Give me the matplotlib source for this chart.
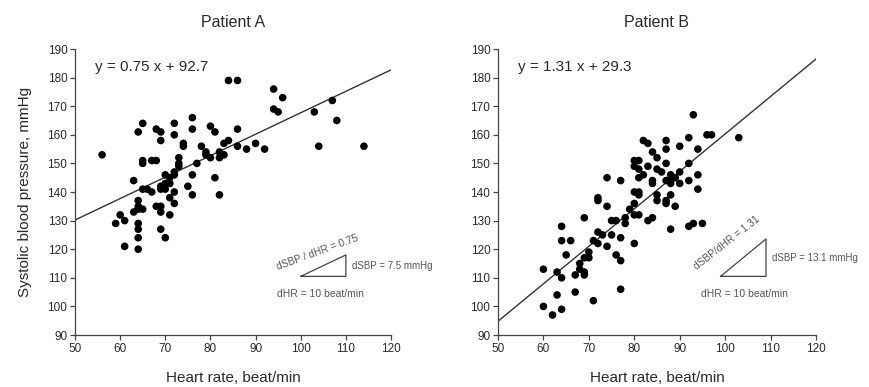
import matplotlib
matplotlib.use("Agg")
import matplotlib.pyplot as plt
import numpy as np

plt.rcParams['font.family'] = ['Liberation Sans', 'DejaVu Sans']

titles = ["Patient A", "Patient B"]

hr_a = [56, 59, 60, 61, 61, 63, 63, 64, 64, 64, 64, 64, 64, 64, 64, 65, 65, 65, 65, 65,
        66, 67, 67, 68, 68, 68, 69, 69, 69, 69, 69, 69, 69, 70, 70, 70, 70, 71, 71, 71,
        71, 72, 72, 72, 72, 72, 72, 73, 73, 73, 74, 74, 75, 76, 76, 76, 76, 77, 78, 79,
        79, 80, 80, 81, 81, 82, 82, 82, 83, 83, 84, 84, 86, 86, 86, 88, 90, 92, 94, 94,
        95, 96, 103, 104, 107, 108, 114]
sbp_a = [153, 129, 132, 130, 121, 144, 133, 161, 137, 135, 134, 129, 127, 124, 120, 164, 151, 150, 141, 134,
         141, 140, 151, 151, 162, 135, 161, 158, 135, 133, 127, 142, 141, 146, 143, 141, 124, 145, 143, 138,
         132, 164, 160, 147, 146, 140, 136, 152, 150, 149, 157, 156, 142, 166, 162, 146, 139, 150, 156, 154,
         153, 163, 152, 161, 145, 154, 152, 139, 157, 153, 179, 158, 179, 162, 156, 155, 157, 155, 176, 169,
         168, 173, 168, 156, 172, 165, 156]

hr_b = [60, 60, 62, 63, 63, 64, 64, 64, 64, 65, 66, 67, 67, 68, 68, 69, 69, 69, 69, 70,
        70, 71, 71, 72, 72, 72, 72, 73, 74, 74, 74, 75, 75, 76, 76, 77, 77, 77, 77, 78,
        78, 79, 80, 80, 80, 80, 80, 80, 81, 81, 81, 81, 81, 81, 82, 82, 83, 83, 83, 84,
        84, 84, 84, 85, 85, 85, 85, 86, 87, 87, 87, 87, 87, 87, 88, 88, 88, 88, 88, 89,
        89, 90, 90, 90, 92, 92, 92, 92, 93, 93, 94, 94, 94, 95, 96, 97, 103]
sbp_b = [113, 100, 97, 112, 104, 128, 123, 110, 99, 118, 123, 111, 105, 115, 113, 131, 117, 112, 111, 119,
         117, 123, 102, 138, 137, 126, 122, 125, 145, 135, 121, 130, 125, 130, 118, 144, 124, 116, 106, 131,
         129, 134, 151, 149, 140, 136, 132, 122, 151, 148, 145, 140, 139, 132, 158, 146, 157, 149, 130, 154,
         144, 143, 131, 152, 148, 139, 137, 147, 158, 155, 150, 144, 137, 136, 146, 144, 143, 139, 127, 145,
         135, 156, 147, 143, 159, 150, 144, 128, 167, 129, 155, 146, 141, 129, 160, 160, 159]

slopes = [0.75, 1.31]
intercepts = [92.7, 29.3]
eq_labels = ["y = 0.75 x + 92.7", "y = 1.31 x + 29.3"]
ratio_labels = ["dSBP / dHR = 0.75", "dSBP/dHR = 1.31"]
dsbp_labels = ["dSBP = 7.5 mmHg", "dSBP = 13.1 mmHg"]
dhr_label = "dHR = 10 beat/min"
tri_x0 = [100, 99]
tri_rot = [20, 38]
tri_text_xy = [(95.0, 112.8), (93.8, 112.7)]

xticks = list(range(50, 121, 10))
yticks = list(range(90, 191, 10))

fig = plt.figure(figsize=(8.69, 3.87), dpi=100)
axes = [fig.add_axes([75/869, 1-335/387, 316/869, 286/387]),
        fig.add_axes([498/869, 1-335/387, 318/869, 286/387])]

tc = '#2a2a2a'
gc = '#555555'
data = [(hr_a, sbp_a), (hr_b, sbp_b)]
for i, ax in enumerate(axes):
    x, y = data[i]
    ax.scatter(x, y, s=30, color='black', edgecolors='none', zorder=3, clip_on=False)
    lx = np.array([50, 120])
    ax.plot(lx, slopes[i]*lx + intercepts[i], color='#333333', lw=1.0, zorder=2)
    ax.set_xlim(50, 120)
    ax.set_ylim(90, 190)
    ax.set_xticks(xticks)
    ax.set_yticks(yticks)
    ax.spines['top'].set_visible(False)
    ax.spines['right'].set_visible(False)
    for s in ['left', 'bottom']:
        ax.spines[s].set_color('#444444')
        ax.spines[s].set_linewidth(0.9)
    ax.tick_params(direction='out', length=3.5, width=0.9, color='#444444',
                   labelsize=8.5, labelcolor=tc, pad=2)
    ax.set_title(titles[i], fontsize=11.5, color=tc, pad=16)
    ax.set_xlabel("Heart rate, beat/min", fontsize=11, color=tc, labelpad=12)
    ax.text(54.4, 183.7, eq_labels[i], fontsize=11, color=tc, va='center', ha='left')
    # slope triangle
    x0 = tri_x0[i]
    y0 = 110.5
    dy = slopes[i]*10
    ax.plot([x0, x0+10, x0+10, x0], [y0, y0, y0+dy, y0], color='#444444', lw=0.9, clip_on=False)
    ax.text(x0+11.3, y0+dy/2, dsbp_labels[i], fontsize=7, color=gc, va='center', ha='left')
    ax.text(94.7, 104.3, dhr_label, fontsize=7.5, color=gc, va='center', ha='left')
    ax.text(tri_text_xy[i][0], tri_text_xy[i][1], ratio_labels[i], fontsize=7.3, color=gc,
            rotation=tri_rot[i], rotation_mode='anchor', va='baseline', ha='left')

axes[0].set_ylabel("Systolic blood pressure, mmHg", fontsize=11, color=tc, labelpad=11)

fig.savefig("out.png", dpi=100)
